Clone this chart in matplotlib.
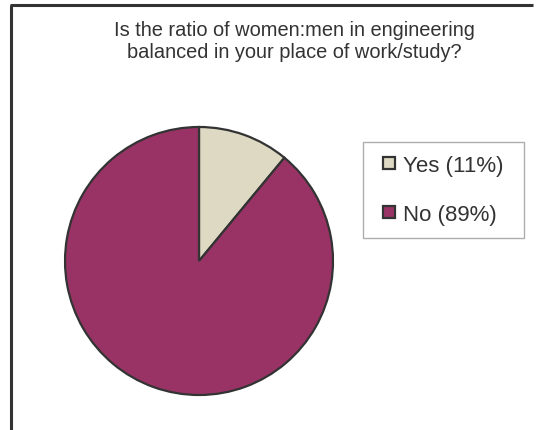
import matplotlib
matplotlib.use("Agg")
import matplotlib.pyplot as plt
from matplotlib.lines import Line2D

categories = ["Yes", "No"]
percentages = [11, 89]
colors = ["#DDD9C3", "#993366"]
title = "Is the ratio of women:men in engineering\nbalanced in your place of work/study?"

plt.rcParams['font.family'] = ['Liberation Sans', 'DejaVu Sans']

W, H = 539, 431
fig = plt.figure(figsize=(W / 100, H / 100), dpi=100)
fig.patch.set_facecolor("white")

# outer frame (only top and left visible)
fig.add_artist(Line2D([11 / W, 11 / W], [0, 1 - 5.5 / H], color="#333333", lw=2.2,
                      transform=fig.transFigure, solid_capstyle="butt"))
fig.add_artist(Line2D([10 / W, 533 / W], [1 - 6 / H, 1 - 6 / H], color="#333333", lw=2.2,
                      transform=fig.transFigure, solid_capstyle="butt"))

cx, cy, r = 199, 262, 134
m = 3
ax = fig.add_axes([(cx - r - m) / W, 1 - (cy + r + m) / H, 2 * (r + m) / W, 2 * (r + m) / H])
wedges, _ = ax.pie(percentages, colors=colors, startangle=90, counterclock=False,
                   wedgeprops=dict(edgecolor="#333333", linewidth=1.6))
lim = 1 + m / r
ax.set_xlim(-lim, lim)
ax.set_ylim(-lim, lim)
ax.set_aspect("equal")
ax.axis("off")

fig.text(294 / W, 1 - 41.5 / H, title, ha="center", va="center", fontsize=14.4,
         color="#333333", linespacing=1.2)

labels = [f"{c} ({p}%)" for c, p in zip(categories, percentages)]
handles = [Line2D([], [], ls="none", marker="s", markersize=8.2, markerfacecolor=c,
                  markeredgecolor="#333333", markeredgewidth=1.6) for c in colors]
leg = fig.legend(handles, labels, loc="upper left",
                 bbox_to_anchor=(363 / W, 1 - 143 / H, 161 / W, 0.0001), mode="expand",
                 fontsize=16, frameon=True, fancybox=False, borderpad=0.58,
                 labelspacing=1.25, handlelength=1.18, handleheight=0.7,
                 handletextpad=0.05, borderaxespad=0)
leg.get_frame().set_edgecolor("#999999")
leg.get_frame().set_linewidth(1.0)
for t in leg.get_texts():
    t.set_color("#333333")

fig.savefig("out.png", dpi=100)
